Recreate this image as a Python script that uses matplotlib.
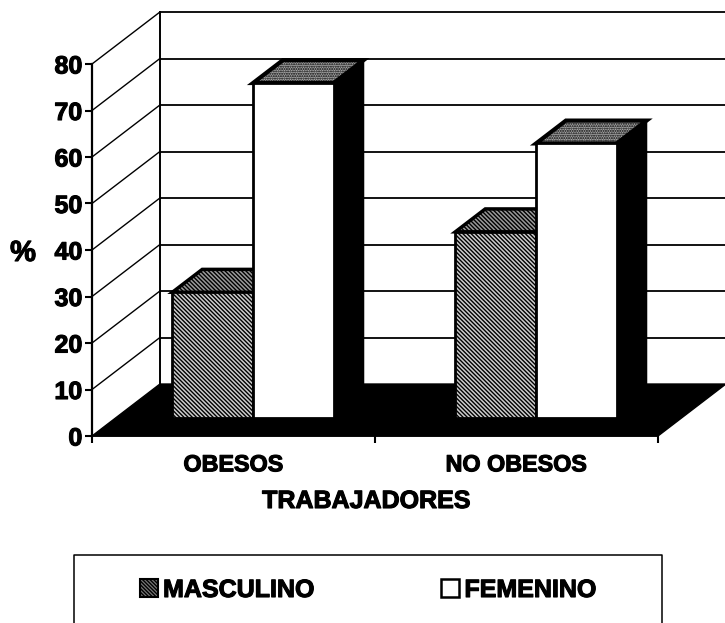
import matplotlib
matplotlib.use('Agg')
import matplotlib.pyplot as plt
import matplotlib.patheffects as pe
from matplotlib.lines import Line2D
from matplotlib.patches import Patch

W, H = 725, 623

categories = ['OBESOS', 'NO OBESOS']
series_names = ['MASCULINO', 'FEMENINO']
masculino = [27, 40]
femenino = [72, 59]
y_ticks = [0, 10, 20, 30, 40, 50, 60, 70, 80]

# depth of the fake 3d box, in data units
DX = 0.24
DY = 11.18
BAR_D0 = 0.35
BAR_D1 = 0.79
BAR_W = 0.285
BAR_START = 0.2

plt.rcParams['font.family'] = ['Liberation Sans', 'DejaVu Sans']
plt.rcParams['font.weight'] = 'bold'
plt.rcParams['hatch.linewidth'] = 1.0

fig = plt.figure(figsize=(W / 100, H / 100), dpi=100)
ax = fig.add_axes([92 / W, 1 - 436 / H, 566 / W, 372 / H])
ax.set_xlim(0, 2)
ax.set_ylim(0, 80)
ax.patch.set_alpha(0)

heavy = [pe.withStroke(linewidth=0.8, foreground='black')]


def pr(x, y, d):
    return x + d * DX, y + d * DY


def face(corners, **kw):
    xs = [c[0] for c in corners]
    ys = [c[1] for c in corners]
    ax.fill(xs, ys, clip_on=False, **kw)


# floor
face([pr(0, 0, 0), pr(2, 0, 0), pr(2, 0, 1), pr(0, 0, 1)], color='black', zorder=1)

# walls and gridlines
for v in y_ticks[1:]:
    x0, y0 = pr(0, v, 1)
    x1, y1 = pr(2, v, 1)
    ax.plot([0, x0], [v, y0], color='black', lw=1.0, clip_on=False, zorder=1)
    ax.plot([x0, x1], [y0, y1], color='black', lw=1.3, clip_on=False, zorder=1)
x0, y0 = pr(0, 0, 1)
x1, y1 = pr(0, 80, 1)
ax.plot([x0, x1], [y0, y1], color='black', lw=1.4, clip_on=False, zorder=1)

# bars
for i, cat in enumerate(categories):
    for j, vals in enumerate([masculino, femenino]):
        v = vals[i]
        left = i + BAR_START + j * BAR_W
        right = left + BAR_W
        # dark side
        face([pr(right, 0, BAR_D0), pr(right, v, BAR_D0), pr(right, v, BAR_D1), pr(right, 0, BAR_D1)],
             color='black', zorder=3)
        # top
        top = [pr(left, v, BAR_D0), pr(right, v, BAR_D0), pr(right, v, BAR_D1), pr(left, v, BAR_D1)]
        if j == 0:
            face(top, facecolor='#999999', edgecolor='black', hatch='\\\\\\\\\\\\\\\\', lw=2.5, zorder=3)
        else:
            face(top, facecolor='#aaaaaa', edgecolor='black', hatch='.......', lw=3, zorder=3)
        # front
        fx, fy = pr(left, 0, BAR_D0)
        if j == 0:
            ax.bar(fx, v, BAR_W, bottom=fy, align='edge', facecolor='#cccccc', edgecolor='black',
                   hatch='\\\\\\\\\\\\\\\\', lw=2, zorder=4, clip_on=False)
        else:
            ax.bar(fx, v, BAR_W, bottom=fy, align='edge', facecolor='white', edgecolor='black',
                   lw=2, zorder=4, clip_on=False)

# axes
ax.spines['top'].set_visible(False)
ax.spines['right'].set_visible(False)
ax.spines['left'].set_linewidth(1.6)
ax.spines['bottom'].set_linewidth(1.2)
ax.set_yticks(y_ticks)
ax.set_xticks([0, 1, 2])
ax.set_xticklabels([])
ax.tick_params(axis='both', direction='out', length=5, width=1.5)
ax.tick_params(axis='y', labelsize=18, pad=2)
for lab in ax.get_yticklabels():
    lab.set_path_effects(heavy)
for i, cat in enumerate(categories):
    ax.text(i + 0.5, -6.2, cat, ha='center', va='center', fontsize=16.8, path_effects=heavy)
fig.text(366 / W, 1 - 501 / H, 'TRABAJADORES', ha='center', va='center', fontsize=18, path_effects=heavy)
fig.text(23 / W, 1 - 253 / H, '%', ha='center', va='center', fontsize=21, path_effects=heavy)

# legend box, the bottom edge is lost at the end of the scan
box_x = [74 / W, 74 / W, 662 / W, 662 / W]
box_y = [1 - 623 / H, 1 - 555 / H, 1 - 555 / H, 1 - 623 / H]
fig.add_artist(Line2D(box_x, box_y, transform=fig.transFigure, color='black', lw=1.1))
handles = [Patch(facecolor='#777777', edgecolor='black', lw=1.5, hatch='\\\\\\\\\\\\\\\\\\', label=series_names[0]),
           Patch(facecolor='white', edgecolor='black', lw=1.8, label=series_names[1])]
leg = fig.legend(handles=handles, ncol=2, frameon=False, loc='center',
                 bbox_to_anchor=(368 / W, 1 - 590 / H), fontsize=18,
                 handlelength=0.72, handleheight=0.72, handletextpad=0.2, columnspacing=5.1)
for t in leg.get_texts():
    t.set_path_effects(heavy)

fig.savefig('out.png', dpi=100)
